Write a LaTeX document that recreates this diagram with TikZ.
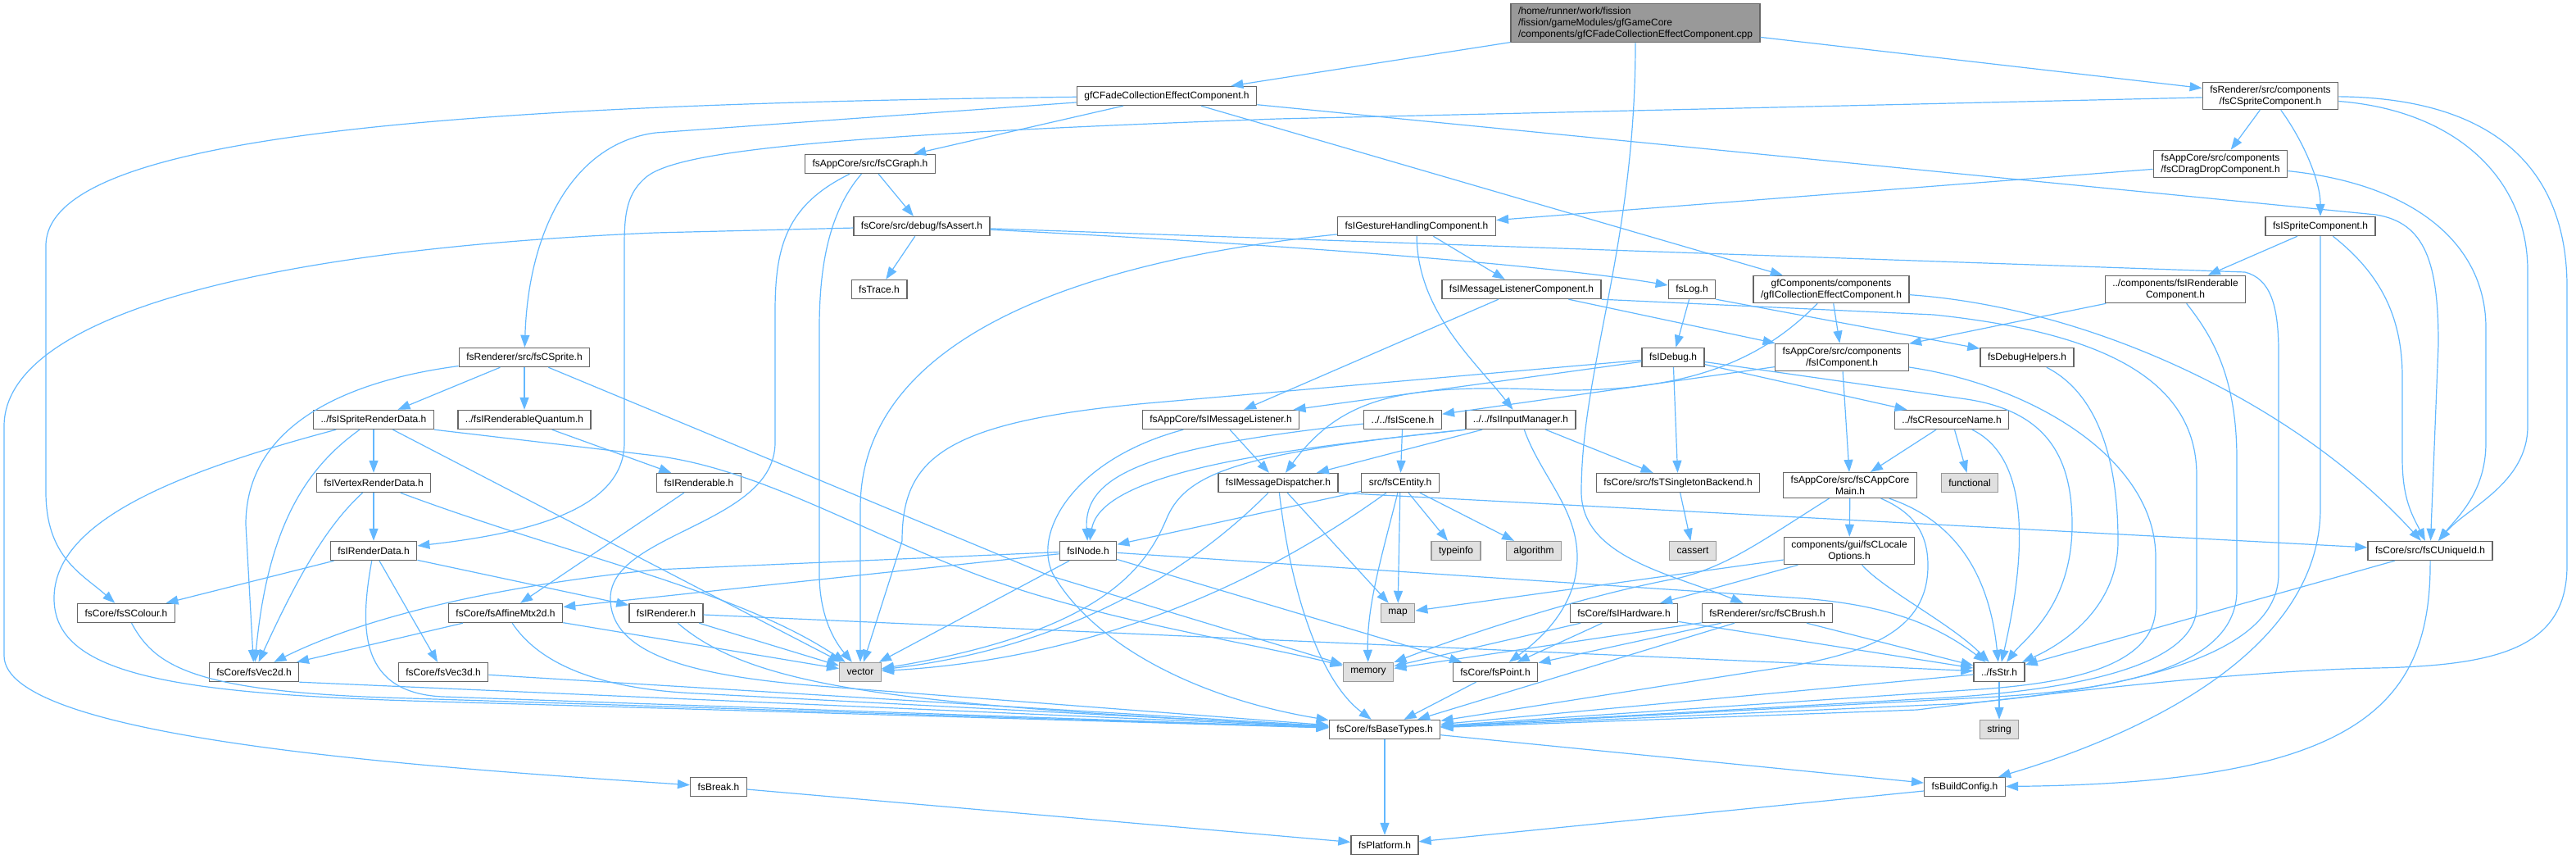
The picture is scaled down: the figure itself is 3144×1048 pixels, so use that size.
\documentclass[tikz,border=0pt]{standalone}
\usepackage{fontspec}
\setmainfont{Liberation Sans}
\usetikzlibrary{arrows.meta}

\definecolor{edgeblue}{HTML}{63B8FF}
\definecolor{boxline}{HTML}{666666}
\definecolor{sysline}{HTML}{999999}
\definecolor{rootfill}{HTML}{999999}
\definecolor{sysfill}{HTML}{E0E0E0}

\tikzset{
  file/.style={draw=boxline, line width=1.4pt, fill=white, inner xsep=9pt, inner ysep=4pt,
    minimum height=23pt, align=center, font=\fontsize{12}{14}\selectfont},
  sysfile/.style={file, draw=sysline, fill=sysfill},
  mainfile/.style={file, fill=rootfill, align=left},
  dep/.style={draw=edgeblue, line width=1.2pt, -{Triangle[length=15pt,width=11pt]}},
}

\begin{document}
\begin{tikzpicture}[x=1pt,y=-1pt]
	\useasboundingbox (0,0) rectangle (3144,1048);
	% Files, row by row
	\node[mainfile] (root) at (1996,28) {/home/runner/work/fission\\/fission/gameModules/gfGameCore\\/components/gfCFadeCollectionEffectComponent.cpp};
	\node[file] (fade) at (1424,117) {gfCFadeCollectionEffectComponent.h};
	\node[file] (spritecomp) at (2771,117) {fsRenderer/src/components\\/fsCSpriteComponent.h};
	\node[file] (graph) at (1062,200) {fsAppCore/src/fsCGraph.h};
	\node[file] (dragdrop) at (2710,200) {fsAppCore/src/components\\/fsCDragDropComponent.h};
	\node[file] (assert) at (1125,276) {fsCore/src/debug/fsAssert.h};
	\node[file] (gesture) at (1729,276) {fsIGestureHandlingComponent.h};
	\node[file] (ispritecomp) at (2832,276) {fsISpriteComponent.h};
	\node[file] (trace) at (1073,353) {fsTrace.h};
	\node[file] (msglistcomp) at (1857,353) {fsIMessageListenerComponent.h};
	\node[file] (log) at (2065,353) {fsLog.h};
	\node[file] (collection) at (2235,353) {gfComponents/components\\/gfICollectionEffectComponent.h};
	\node[file] (renderablecomp) at (2655,353) {../components/fsIRenderable\\Component.h};
	\node[file] (sprite) at (640,436) {fsRenderer/src/fsCSprite.h};
	\node[file] (idebug) at (2042,436) {fsIDebug.h};
	\node[file] (icomponent) at (2248,436) {fsAppCore/src/components\\/fsIComponent.h};
	\node[file] (debughelpers) at (2474,436) {fsDebugHelpers.h};
	\node[file] (spriterd) at (456,512) {../fsISpriteRenderData.h};
	\node[file] (quantum) at (640,512) {../fsIRenderableQuantum.h};
	\node[file] (msglistener) at (1490,512) {fsAppCore/fsIMessageListener.h};
	\node[file] (scene) at (1712,512) {../../fsIScene.h};
	\node[file] (inputmgr) at (1856,512) {../../fsIInputManager.h};
	\node[file] (resname) at (2382,512) {../fsCResourceName.h};
	\node[file] (vertexrd) at (456,589) {fsIVertexRenderData.h};
	\node[file] (renderable) at (853,589) {fsIRenderable.h};
	\node[file] (dispatcher) at (1560,589) {fsIMessageDispatcher.h};
	\node[file] (entity) at (1709,589) {src/fsCEntity.h};
	\node[file] (singleton) at (2048,589) {fsCore/src/fsTSingletonBackend.h};
	\node[file] (appcore) at (2258,592) {fsAppCore/src/fsCAppCore\\Main.h};
	\node[sysfile] (functional) at (2404,589) {functional};
	\node[file] (renderdata) at (456,672) {fsIRenderData.h};
	\node[file] (inode) at (1328,672) {fsINode.h};
	\node[sysfile] (typeinfo) at (1777,672) {typeinfo};
	\node[sysfile] (algorithm) at (1872,672) {algorithm};
	\node[sysfile] (cassert) at (2066,672) {cassert};
	\node[file] (locale) at (2257,672) {components/gui/fsCLocale\\Options.h};
	\node[file] (uniqueid) at (2966,672) {fsCore/src/fsCUniqueId.h};
	\node[file] (colour) at (154,748) {fsCore/fsSColour.h};
	\node[file] (affine) at (617,748) {fsCore/fsAffineMtx2d.h};
	\node[file] (irenderer) at (813,748) {fsIRenderer.h};
	\node[sysfile] (map) at (1706,748) {map};
	\node[file] (hardware) at (1982,748) {fsCore/fsIHardware.h};
	\node[file] (brush) at (2157,748) {fsRenderer/src/fsCBrush.h};
	\node[file] (vec2d) at (310,820) {fsCore/fsVec2d.h};
	\node[file] (vec3d) at (541,820) {fsCore/fsVec3d.h};
	\node[sysfile] (vector) at (1050,820) {vector};
	\node[sysfile] (memory) at (1670,820) {memory};
	\node[file] (point) at (1825,820) {fsCore/fsPoint.h};
	\node[file] (str) at (2440,820) {../fsStr.h};
	\node[file] (basetypes) at (1690,890) {fsCore/fsBaseTypes.h};
	\node[sysfile] (string) at (2440,890) {string};
	\node[file] (brk) at (877,960) {fsBreak.h};
	\node[file] (buildconfig) at (2398,960) {fsBuildConfig.h};
	\node[file] (platform) at (1690,1031) {fsPlatform.h};

	% Includes of the .cpp
	\draw[dep] (root) -- (fade);
	\draw[dep] (root) -- (spritecomp);
	\draw[dep] (root) .. controls (1996,300) and (1930,450) .. (1930,600) .. controls (1930,680) and (2040,700) .. (brush);

	% Top headers
	\draw[dep] (fade) -- (graph);
	\draw[dep] (fade) .. controls (500,128) and (56,170) .. (56,300) -- (56,600) .. controls (56,680) and (100,700) .. (colour);
	\draw[dep] (fade) -- (800,162) .. controls (700,175) and (645,280) .. (sprite);
	\draw[dep] (fade) -- (collection);
	\draw[dep] (fade) -- (2900,262) .. controls (2960,272) and (2976,320) .. (2976,420) -- (uniqueid);
	\draw[dep] (spritecomp) -- (dragdrop);
	\draw[dep] (spritecomp) .. controls (2810,170) and (2832,220) .. (ispritecomp);
	\draw[dep] (spritecomp) -- (1560,145) .. controls (1000,165) and (830,185) .. (790,215) .. controls (765,235) and (762,260) .. (762,300) -- (762,540) .. controls (762,620) and (650,650) .. (renderdata);
	\draw[dep] (spritecomp) .. controls (3000,135) and (3085,220) .. (3085,330) -- (3085,520) .. controls (3085,590) and (3010,620) .. (uniqueid);
	\draw[dep] (spritecomp) .. controls (3060,120) and (3133,220) .. (3133,350) -- (3133,690) .. controls (3133,790) and (3050,812) .. (2900,815) .. controls (2750,818) and (2550,840) .. (2340,866) -- (basetypes);
	\draw[dep] (dragdrop) -- (gesture);
	\draw[dep] (dragdrop) .. controls (2950,225) and (3034,300) .. (3034,400) -- (3034,540) .. controls (3034,600) and (3000,630) .. (uniqueid);

	% Components
	\draw[dep] (gesture) -- (msglistcomp);
	\draw[dep] (gesture) .. controls (1730,380) and (1800,440) .. (inputmgr);
	\draw[dep] (gesture) .. controls (1300,320) and (1050,420) .. (1050,620) -- (vector);
	\draw[dep] (msglistcomp) -- (msglistener);
	\draw[dep] (msglistcomp) -- (icomponent);
	\draw[dep] (msglistcomp.south east) -- (2360,384) .. controls (2560,405) and (2681,460) .. (2681,580) -- (2681,740) .. controls (2681,830) and (2450,848) .. (2340,853) -- (basetypes);
	\draw[dep] (log) -- (idebug);
	\draw[dep] (log.south east) -- (debughelpers);
	\draw[dep] (collection) -- (icomponent);
	\draw[dep] (collection) .. controls (2550,375) and (2800,490) .. (uniqueid);
	\draw[dep] (collection) .. controls (2150,440) and (2060,478) .. (1900,476) .. controls (1720,468) and (1640,480) .. (dispatcher);
	\draw[dep] (ispritecomp) -- (renderablecomp);
	\draw[dep] (ispritecomp) .. controls (2900,330) and (2932,380) .. (2932,460) -- (2932,560) .. controls (2932,610) and (2945,630) .. (uniqueid);
	\draw[dep] (ispritecomp) -- (2832,620) .. controls (2832,800) and (2600,900) .. (buildconfig);
	\draw[dep] (renderablecomp) -- (icomponent);
	\draw[dep] (renderablecomp) .. controls (2700,410) and (2730,460) .. (2730,560) -- (2730,720) .. controls (2730,825) and (2550,845) .. (2400,852) -- (basetypes);

	% Debug and app core
	\draw[dep] (graph) -- (assert);
	\draw[dep] (graph) .. controls (1010,260) and (1000,330) .. (1000,400) -- (1000,700) .. controls (1000,760) and (1025,790) .. (vector);
	\draw[dep] (graph) .. controls (960,250) and (946,300) .. (946,380) -- (946,540) .. controls (946,640) and (745,650) .. (745,730) .. controls (745,800) and (850,825) .. (1000,837) -- (basetypes);
	\draw[dep] (assert) -- (trace);
	\draw[dep] (assert) .. controls (1600,300) and (1900,325) .. (log);
	\draw[dep] (assert) -- (2740,332) .. controls (2770,340) and (2781,370) .. (2781,430) -- (2781,700) .. controls (2781,800) and (2600,840) .. (2400,858) -- (basetypes);
	\draw[dep] (assert) -- (800,284) .. controls (300,305) and (5,390) .. (5,520) -- (5,800) .. controls (5,900) and (500,935) .. (brk);
	\draw[dep] (idebug) -- (msglistener);
	\draw[dep] (idebug) -- (1400,492) .. controls (1150,515) and (1101,560) .. (1101,660) -- (vector);
	\draw[dep] (idebug) -- (singleton);
	\draw[dep] (idebug) -- (resname);
	\draw[dep] (idebug) -- (2400,487) .. controls (2500,502) and (2529,560) .. (2529,640) .. controls (2529,740) and (2470,780) .. (str);
	\draw[dep] (singleton) -- (cassert);
	\draw[dep] (icomponent) -- (appcore);
	\draw[dep] (icomponent) -- (scene);
	\draw[dep] (icomponent) .. controls (2480,470) and (2631,560) .. (2631,680) -- (2631,740) .. controls (2631,815) and (2520,835) .. (2400,842) -- (basetypes);
	\draw[dep] (debughelpers) .. controls (2560,480) and (2585,560) .. (2585,660) .. controls (2585,740) and (2520,785) .. (str);
	\draw[dep] (resname) -- (appcore);
	\draw[dep] (resname) -- (functional);
	\draw[dep] (resname) .. controls (2480,560) and (2472,680) .. (str);
	\draw[dep] (appcore) -- (locale);
	\draw[dep] (appcore) .. controls (2150,660) and (2110,690) .. (2050,705) .. controls (1940,725) and (1800,770) .. (memory);
	\draw[dep] (appcore) .. controls (2335,625) and (2353,650) .. (2353,690) .. controls (2353,770) and (2280,800) .. (2150,818) -- (basetypes);
	\draw[dep] (appcore) .. controls (2400,640) and (2430,720) .. (str);
	\draw[dep] (locale) -- (map);
	\draw[dep] (locale) -- (hardware);
	\draw[dep] (locale) .. controls (2300,720) and (2380,760) .. (str);

	% Messages, scene and nodes
	\draw[dep] (msglistener) -- (dispatcher);
	\draw[dep] (msglistener) .. controls (1310,560) and (1260,650) .. (1285,700) .. controls (1330,780) and (1450,850) .. (basetypes);
	\draw[dep] (scene) .. controls (1400,545) and (1322,580) .. (inode);
	\draw[dep] (scene) -- (entity);
	\draw[dep] (inputmgr.south west) .. controls (1600,545) and (1345,570) .. (inode);
	\draw[dep] (inputmgr) -- (dispatcher);
	\draw[dep] (inputmgr) -- (singleton);
	\draw[dep] (inputmgr) .. controls (1880,580) and (1925,620) .. (1925,680) .. controls (1925,740) and (1880,780) .. (point);
	\draw[dep] (inputmgr.south west) .. controls (1520,552) and (1450,575) .. (1425,630) .. controls (1400,690) and (1350,770) .. (vector);
	\draw[dep] (entity) -- (inode);
	\draw[dep] (entity) -- (typeinfo);
	\draw[dep] (entity) -- (algorithm);
	\draw[dep] (entity) -- (map);
	\draw[dep] (entity) .. controls (1686,680) and (1668,740) .. (memory);
	\draw[dep] (entity) .. controls (1610,660) and (1400,800) .. (vector);
	\draw[dep] (dispatcher.south east) -- (uniqueid);
	\draw[dep] (dispatcher) -- (map);
	\draw[dep] (dispatcher) .. controls (1575,720) and (1610,830) .. (basetypes);
	\draw[dep] (dispatcher) .. controls (1450,700) and (1300,790) .. (vector);
	\draw[dep] (inode) -- (800,695) .. controls (560,720) and (420,765) .. (vec2d);
	\draw[dep] (inode) -- (affine);
	\draw[dep] (inode) -- (vector);
	\draw[dep] (inode) -- (point);
	\draw[dep] (inode) -- (2200,730) .. controls (2300,738) and (2360,760) .. (str);

	% Renderer side
	\draw[dep] (sprite) -- (spriterd);
	\draw[dep] (sprite) -- (quantum);
	\draw[dep] (sprite) .. controls (420,465) and (300,520) .. (300,640) -- (vec2d);
	\draw[dep] (sprite) -- (1280,702) -- (memory);
	\draw[dep] (spriterd) -- (vertexrd);
	\draw[dep] (spriterd) .. controls (375,570) and (327,640) .. (vec2d);
	\draw[dep] (spriterd) .. controls (200,580) and (66,640) .. (66,730) .. controls (66,820) and (200,845) .. (500,855) -- (basetypes);
	\draw[dep] (spriterd) -- (vector);
	\draw[dep] (spriterd.south east) -- (800,556) .. controls (950,575) and (1100,680) .. (1280,730) .. controls (1400,765) and (1550,790) .. (memory);
	\draw[dep] (quantum) -- (renderable);
	\draw[dep] (renderable) -- (affine);
	\draw[dep] (vertexrd) -- (renderdata);
	\draw[dep] (vertexrd) .. controls (400,640) and (365,700) .. (vec2d);
	\draw[dep] (vertexrd) .. controls (700,680) and (900,720) .. (vector);
	\draw[dep] (renderdata) -- (colour);
	\draw[dep] (renderdata) -- (vec3d);
	\draw[dep] (renderdata) -- (irenderer);
	\draw[dep] (renderdata) .. controls (438,770) and (440,845) .. (540,850) -- (basetypes);
	\draw[dep] (affine) -- (vec2d);
	\draw[dep] (affine) -- (vector);
	\draw[dep] (affine) .. controls (655,805) and (720,840) .. (850,846) -- (basetypes);
	\draw[dep] (irenderer) -- (vector);
	\draw[dep] (irenderer) .. controls (920,840) and (1100,860) .. (basetypes);
	\draw[dep] (irenderer) -- (str);

	% Base headers
	\draw[dep] (hardware) -- (memory);
	\draw[dep] (hardware) -- (point);
	\draw[dep] (hardware) -- (str);
	\draw[dep] (brush) -- (memory);
	\draw[dep] (brush) -- (point);
	\draw[dep] (brush) -- (basetypes);
	\draw[dep] (brush) -- (str);
	\draw[dep] (point) -- (basetypes);
	\draw[dep] (str) -- (string);
	\draw[dep] (str) -- (basetypes);
	\draw[dep] (vec2d.south east) -- (basetypes);
	\draw[dep] (vec3d) -- (basetypes);
	\draw[dep] (colour) .. controls (190,815) and (240,845) .. (500,852) -- (basetypes);
	\draw[dep] (uniqueid) -- (str);
	\draw[dep] (uniqueid) .. controls (2967,860) and (2880,955) .. (buildconfig);
	\draw[dep] (basetypes) -- (platform);
	\draw[dep] (basetypes) -- (buildconfig);
	\draw[dep] (buildconfig) -- (platform);
	\draw[dep] (brk) -- (platform);
\end{tikzpicture}
\end{document}
